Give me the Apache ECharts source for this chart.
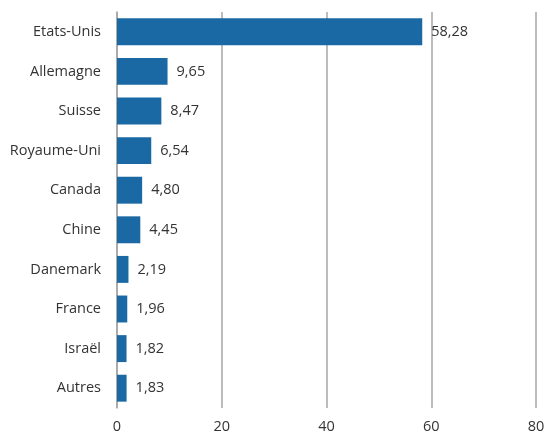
<!DOCTYPE html>
<html>
<head>
<meta charset="utf-8">
<script src="https://cdn.jsdelivr.net/npm/echarts@6/dist/echarts.min.js"></script>
<style>
  html, body { margin: 0; padding: 0; background: #fff; }
  #chart { width: 546px; height: 432px; }
</style>
</head>
<body>
<div id="chart"></div>
<script>
// Pays (de haut en bas) et parts en %
const categories = ['Etats-Unis', 'Allemagne', 'Suisse', 'Royaume-Uni', 'Canada', 'Chine', 'Danemark', 'France', 'Israël', 'Autres'];
const values = [58.28, 9.65, 8.47, 6.54, 4.80, 4.45, 2.19, 1.96, 1.82, 1.83];
const xTicks = [0, 20, 40, 60, 80];

const fontFamily = '"Open Sans", "Noto Sans", sans-serif';
const textColor = '#333333';

const chart = echarts.init(document.getElementById('chart'), null, { renderer: 'canvas' });
chart.setOption({
  animation: false,
  grid: { left: 117, right: 10, top: 12, bottom: 24, containLabel: false, outerBoundsMode: 'none' },
  xAxis: {
    type: 'value',
    min: xTicks[0],
    max: xTicks[xTicks.length - 1],
    interval: xTicks[1] - xTicks[0],
    axisLine: { show: false },
    axisTick: { show: false },
    splitLine: { show: true, lineStyle: { color: '#a6a6a6', width: 1.5 } },
    axisLabel: { color: textColor, fontFamily, fontSize: 14.5, margin: 11 }
  },
  yAxis: {
    type: 'category',
    data: categories,
    inverse: true,
    axisLine: { show: true, lineStyle: { color: '#a6a6a6', width: 1.5 } },
    axisTick: { show: false },
    axisLabel: { color: textColor, fontFamily, fontSize: 14.5, margin: 16 }
  },
  series: [{
    type: 'bar',
    data: values,
    barCategoryGap: '32%',
    itemStyle: { color: '#1b69a4' },
    label: {
      show: true,
      position: 'right',
      distance: 9,
      color: textColor,
      fontFamily,
      fontSize: 14.5,
      formatter: p => p.value.toFixed(2).replace('.', ',')
    }
  }]
});
</script>
</body>
</html>
